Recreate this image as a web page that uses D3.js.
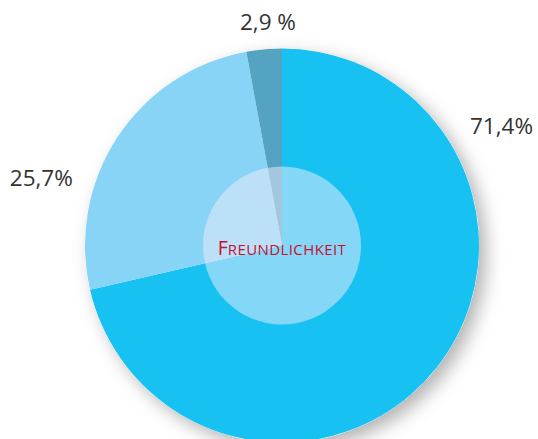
<!DOCTYPE html>
<html>
<head>
<meta charset="utf-8">
<script src="https://cdn.jsdelivr.net/npm/d3@7"></script>
<style>
  html, body { margin: 0; padding: 0; background: #fff; }
  svg { display: block; }
</style>
</head>
<body>
<div id="chart"></div>
<script>
const categories = ["Ja", "Teilweise", "Nein"];
const values = [71.4, 25.7, 2.9];
const valueLabels = ["71,4%", "25,7%", "2,9 %"];
const centerLabel = "Freundlichkeit";

const width = 538, height = 439;
const cx = 282, cy = 245.5;
const radius = 197, innerRadius = 79;

const colors = d3.scaleOrdinal()
  .domain(categories)
  .range(["#17c2f2", "#87d4f7", "#55a3c2"]);

// where each outside label sits: angle (deg, clockwise from top) and distance
const labelPos = [
  { angle: 61.4, r: 250 },
  { angle: 285.7, r: 250 },
  { angle: 356.4, r: 224 }
];

const svg = d3.select("#chart").append("svg")
  .attr("width", width)
  .attr("height", height);

const defs = svg.append("defs");
const shadow = defs.append("filter")
  .attr("id", "shadow")
  .attr("x", "-20%").attr("y", "-20%")
  .attr("width", "150%").attr("height", "150%");
shadow.append("feDropShadow")
  .attr("dx", 7).attr("dy", 7)
  .attr("stdDeviation", 9)
  .attr("flood-color", "#000")
  .attr("flood-opacity", 0.3);

const g = svg.append("g").attr("transform", `translate(${cx},${cy})`);

const pie = d3.pie().sort(null).value(d => d);
const arc = d3.arc().innerRadius(0).outerRadius(radius);

// shadow disc behind the pie
g.append("circle")
  .attr("r", radius)
  .attr("fill", "#fff")
  .attr("filter", "url(#shadow)");

g.selectAll("path.slice")
  .data(pie(values))
  .enter()
  .append("path")
  .attr("class", "slice")
  .attr("d", arc)
  .attr("fill", (d, i) => colors(categories[i]));

g.append("circle")
  .attr("r", innerRadius)
  .attr("fill", "#f2ecf9")
  .attr("fill-opacity", 0.5);

// small caps done by hand: first letter big, the rest smaller uppercase
const center = g.append("text")
  .attr("x", 0)
  .attr("y", 9.5)
  .attr("text-anchor", "middle")
  .style("font-family", "'Open Sans', sans-serif")
  .style("fill", "#c8102e");
center.append("tspan")
  .style("font-size", "19.5px")
  .text(centerLabel[0].toUpperCase());
center.append("tspan")
  .style("font-size", "15px")
  .style("letter-spacing", "0.4px")
  .text(centerLabel.slice(1).toUpperCase());

g.selectAll("text.value")
  .data(valueLabels)
  .enter()
  .append("text")
  .attr("class", "value")
  .attr("x", (d, i) => labelPos[i].r * Math.sin(labelPos[i].angle * Math.PI / 180))
  .attr("y", (d, i) => -labelPos[i].r * Math.cos(labelPos[i].angle * Math.PI / 180))
  .attr("dy", "0.35em")
  .attr("text-anchor", "middle")
  .style("font-family", "'Open Sans', sans-serif")
  .style("font-size", "22.5px")
  .style("fill", "#333")
  .text(d => d);
</script>
</body>
</html>
